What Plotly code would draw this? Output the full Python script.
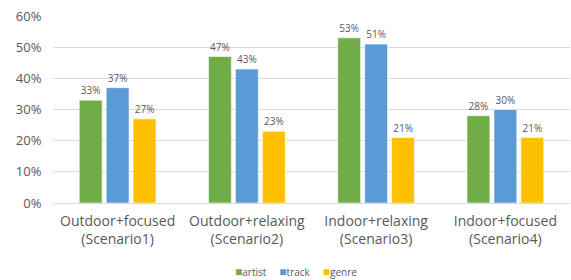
import plotly.graph_objects as go

categories = ["Outdoor+focused<br>(Scenario1)", "Outdoor+relaxing<br>(Scenario2)",
              "Indoor+relaxing<br>(Scenario3)", "Indoor+focused<br>(Scenario4)"]
series_names = ["artist", "track", "genre"]
artist = [33, 47, 53, 28]
track = [37, 43, 51, 30]
genre = [27, 23, 21, 21]
y_ticks = [0, 10, 20, 30, 40, 50, 60]
y_tick_labels = ["0%", "10%", "20%", "30%", "40%", "50%", "60%"]

font_family = "Open Sans, Liberation Sans, sans-serif"
txt_color = "#595959"
colors = ["#70ad47", "#5b9bd5", "#ffc000"]

fig = go.Figure()
for name, vals, color in zip(series_names, [artist, track, genre], colors):
    fig.add_trace(go.Bar(
        x=categories, y=vals, name=name, showlegend=False,
        marker=dict(color=color, line=dict(color="rgba(255,255,255,0.6)", width=1)),
        text=[f"{v}%" for v in vals], textposition="outside",
        textfont=dict(size=10, color=txt_color, family=font_family),
        cliponaxis=False,
    ))

legend_text = "&nbsp;&nbsp;&nbsp;&nbsp;&nbsp;".join(
    f'<span style="color:{c};font-size:12px">■</span>{n}' for n, c in zip(series_names, colors))
fig.add_annotation(x=0.47, y=-0.364, xref="paper", yref="paper", text=legend_text,
                   showarrow=False, xanchor="center", yanchor="middle",
                   font=dict(size=10, color=txt_color, family=font_family))

fig.update_layout(
    template="none",
    width=571, height=280,
    margin=dict(l=53, r=1, t=16, b=77, autoexpand=False),
    plot_bgcolor="white", paper_bgcolor="white",
    barmode="group", bargap=0.375, bargroupgap=0.15,
    font=dict(family=font_family, color=txt_color),
    dragmode=False,
    xaxis=dict(showline=False, linecolor="white", showgrid=False, gridcolor="white",
               zeroline=False, tickfont=dict(size=14, color=txt_color),
               ticks="outside", ticklen=5, tickcolor="rgba(0,0,0,0)"),
    yaxis=dict(range=[0, 60], tickvals=y_ticks, ticktext=y_tick_labels, showline=False,
               linecolor="white", showgrid=True, gridcolor="#d9d9d9", gridwidth=1,
               zeroline=True, zerolinecolor="#d9d9d9", zerolinewidth=1,
               ticks="outside", ticklen=8, tickcolor="rgba(0,0,0,0)",
               tickfont=dict(size=13, color=txt_color)),
)

fig.write_html("out.html", config={"displayModeBar": False, "staticPlot": True},
               post_script="document.body.style.margin='0';document.body.style.overflow='hidden';")
